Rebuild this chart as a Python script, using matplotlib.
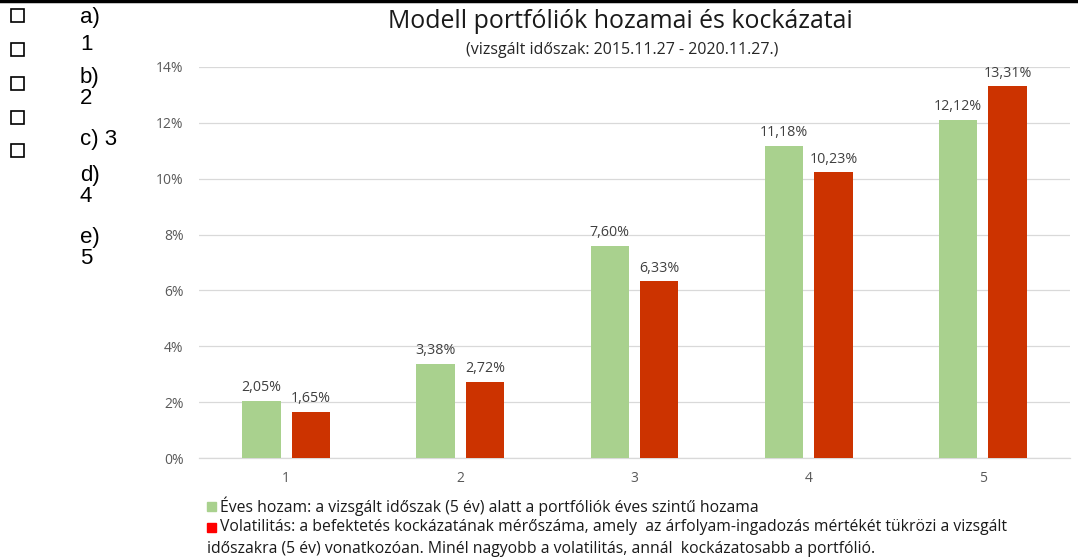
import matplotlib
matplotlib.use("Agg")
import matplotlib.pyplot as plt
from matplotlib.patches import Rectangle
from matplotlib.ticker import FuncFormatter

# Portfolio numbers and annual figures (percent)
portfolios = ["1", "2", "3", "4", "5"]
eves_hozam = [2.05, 3.38, 7.60, 11.18, 12.12]
volatilitas = [1.65, 2.72, 6.33, 10.23, 13.31]
y_ticks = [0, 2, 4, 6, 8, 10, 12, 14]

# answer options on the left side
options = ["a)", "1", "b)", "2", "c) 3", "d)", "4", "e)", "5"]
option_y = [17, 44, 77, 98, 140, 175, 196, 238, 259]
box_y = [15, 49, 83, 117, 150]

title = "Modell portfóliók hozamai és kockázatai"
subtitle = "(vizsgált időszak: 2015.11.27 - 2020.11.27.)"
legend_lines = [
    "Éves hozam: a vizsgált időszak (5 év) alatt a portfóliók éves szintű hozama",
    "Volatilitás: a befektetés kockázatának mérőszáma, amely  az árfolyam-ingadozás mértékét tükrözi a vizsgált",
    "időszakra (5 év) vonatkozóan. Minél nagyobb a volatilitás, annál  kockázatosabb a portfólió.",
]

GREEN = "#A9D18E"
RED = "#CC3300"
FONT = "Open Sans"

W, H = 1078, 560
fig = plt.figure(figsize=(W / 100, H / 100), dpi=100)

def fx(px):
    return px / W

def fy(py):
    return 1 - py / H

ax = fig.add_axes([fx(199), fy(458), fx(1070 - 199), (458 - 67) / H])

x = range(len(portfolios))
off, bw = 0.142, 0.22
g = ax.bar([i - off for i in x], eves_hozam, width=bw, color=GREEN, zorder=3)
r = ax.bar([i + off for i in x], volatilitas, width=bw, color=RED, zorder=3)

for bars, vals in ((g, eves_hozam), (r, volatilitas)):
    for b, v in zip(bars, vals):
        ax.text(b.get_x() + b.get_width() / 2, v + 0.2,
                f"{v:.2f}%".replace(".", ","), ha="center", va="bottom",
                fontsize=10.3, color="#404040", family=FONT)

ax.set_xlim(-0.5, len(portfolios) - 0.5)
ax.set_ylim(0, 14)
ax.set_yticks(y_ticks)
ax.yaxis.set_major_formatter(FuncFormatter(lambda v, p: f"{v:.0f}%"))
ax.set_xticks(list(x))
ax.set_xticklabels(portfolios)
ax.tick_params(length=0, labelsize=10, labelcolor="#595959")
ax.tick_params(axis="y", pad=11)
ax.tick_params(axis="x", pad=9)
for lbl in ax.get_xticklabels() + ax.get_yticklabels():
    lbl.set_family(FONT)
ax.yaxis.grid(True, color="#D9D9D9", lw=0.9, zorder=0)
for s in ("left", "right", "top"):
    ax.spines[s].set_visible(False)
ax.spines["bottom"].set_color("#D9D9D9")
ax.spines["bottom"].set_linewidth(0.9)

fig.text(fx(620), fy(22), title, ha="center", va="center",
         fontsize=17.9, color="#1a1a1a", family=FONT)
fig.text(fx(622), fy(50), subtitle, ha="center", va="center",
         fontsize=11.5, color="#262626", family=FONT)

# legend drawn as separate text lines
sq = 9
fig.patches.append(Rectangle((fx(207), fy(511)), fx(sq), sq / H,
                             color=GREEN, transform=fig.transFigure))
fig.patches.append(Rectangle((fx(207), fy(532)), fx(sq), sq / H,
                             color="#FF0000", transform=fig.transFigure))
for txt, xx, yy in zip(legend_lines, (220, 220, 207), (506, 527, 549)):
    fig.text(fx(xx), fy(yy), txt, ha="left", va="center",
             fontsize=11.3, color="#1a1a1a", family=FONT)

# checkboxes and option labels
for yy in box_y:
    fig.patches.append(Rectangle((fx(11), fy(yy + 7)), fx(13), 13 / H,
                                 fill=False, ec="black", lw=1.2,
                                 transform=fig.transFigure))
for txt, yy in zip(options, option_y):
    fig.text(fx(80), fy(yy), txt, ha="left", va="center",
             fontsize=16, color="black", family="Liberation Sans")

# rule at the very top of the page
fig.add_artist(plt.Line2D([0, 1], [fy(1), fy(1)], color="black", lw=2.5,
                          transform=fig.transFigure))

fig.savefig("out.png", dpi=100)
